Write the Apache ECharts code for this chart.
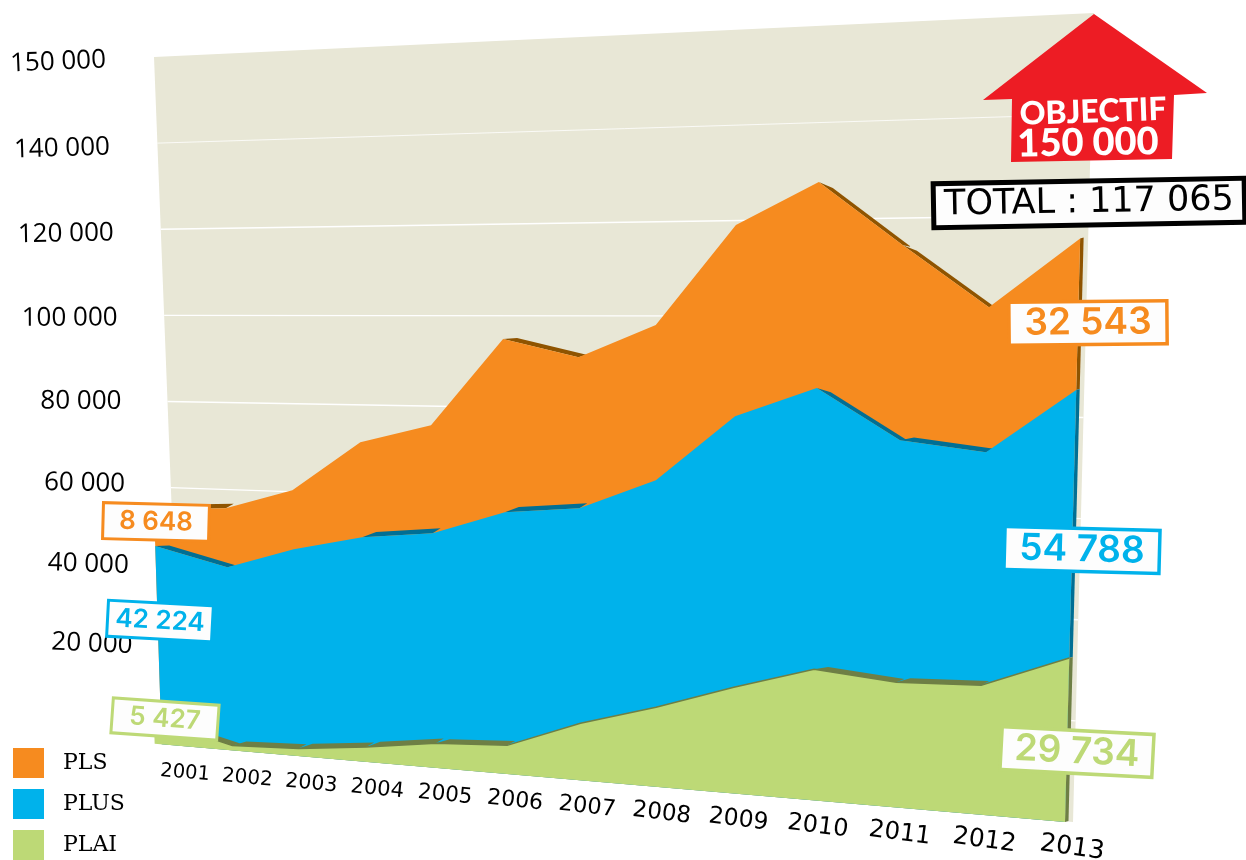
<!DOCTYPE html>
<html>
<head>
<meta charset="utf-8">
<title>PLS PLUS PLAI 2001-2013</title>
<script src="https://cdn.jsdelivr.net/npm/echarts@6/dist/echarts.min.js"></script>
<style>
  html, body { margin: 0; background: #fff; }
  #main { width: 1246px; height: 860px; }
</style>
</head>
<body>
<div id="main"></div>
<script>
// values read off the drawn shapes (the poster's drawing is not quite to scale with its own labels)
const years = [2001, 2002, 2003, 2004, 2005, 2006, 2007, 2008, 2009, 2010, 2011, 2012, 2013];
const plai = [5430, 1170, 1800, 3460, 5670, 6540, 12820, 17620, 23200, 28210, 26560, 27090, 33780];
const plus = [42220, 42270, 46610, 48420, 47830, 52310, 47520, 49340, 57770, 58890, 50210, 47680, 53710];
const pls = [8650, 13810, 13610, 21520, 24100, 37850, 32600, 32910, 39570, 41880, 39330, 28950, 29580];

// the top tick really sits at the 160 000 position but is printed 150 000
const tickValues = [20000, 40000, 60000, 80000, 100000, 120000, 140000, 160000];
const tickLabels = ['20 000', '40 000', '60 000', '80 000', '100 000', '120 000', '140 000', '150 000'];

const W = 1246, H = 860;
const deg = d => -d * Math.PI / 180; // clockwise degrees to zrender rotation
const FONT = 'Inter, Lato, sans-serif';

// four corner perspective: unit square -> quad
function makeWarp(p00, p10, p11, p01) {
  const dx1 = p10[0] - p11[0], dy1 = p10[1] - p11[1];
  const dx2 = p01[0] - p11[0], dy2 = p01[1] - p11[1];
  const sx = p00[0] - p10[0] + p11[0] - p01[0], sy = p00[1] - p10[1] + p11[1] - p01[1];
  const D = dx1 * dy2 - dx2 * dy1;
  const g = (sx * dy2 - dx2 * sy) / D, h = (dx1 * sy - sx * dy1) / D;
  const a = p10[0] - p00[0] + g * p10[0], b = p01[0] - p00[0] + h * p01[0];
  const d = p10[1] - p00[1] + g * p10[1], e = p01[1] - p00[1] + h * p01[1];
  return (u, v) => {
    const w = 1 + g * u + h * v;
    return [(a * u + b * v + p00[0]) / w, (d * u + e * v + p00[1]) / w];
  };
}

const plane = makeWarp([168, 744.8], [1065, 822], [1086, 13.4], [146, 57.4]);
const yearLine = makeWarp([185, 773], [1072, 848], [1092, 39], [185, 103]);
const tickLine = makeWarp([136, 725], [1136, 725], [1162, 60], [106, 60]);

// the wall behind the areas, its rules stay evenly spaced
const wallLeft = [[181, 746], [154, 57]];
const wallRight = [[1073, 822], [1094, 13]];
const mix = (a, b, t) => [a[0] + (b[0] - a[0]) * t, a[1] + (b[1] - a[1]) * t];

// api.coord gives flat grid pixels, the plane bends them
const project = (api, x, y) => {
  const p = api.coord([x, y]);
  return plane(p[0] / W, 1 - p[1] / H);
};

const stack = (...layers) => years.map((_, i) => layers.reduce((s, l) => s + l[i], 0));
const topPlai = stack(plai);
const topPlus = stack(plai, plus);
const topPls = stack(plai, plus, pls);

// first year is drawn a bit further out than the regular spacing
const xAt = i => (i === 0 ? 2000.9 : years[i]);

function layerRender(tops, lowerTops, color, dark, outlined) {
  return (params, api) => {
    const pts = years.map((y, i) => project(api, xAt(i), tops[i]));
    const children = [];
    const thick = 4.5;
    // dark side only shows where the edge falls or stays flat
    for (let i = 0; i < pts.length - 1; i++) {
      const A = pts[i], B = pts[i + 1];
      const s = (B[1] - A[1]) / (B[0] - A[0]);
      if (s < -0.1) continue;
      children.push({
        type: 'polygon',
        shape: { points: [A, [A[0] + 14, A[1] + 14 * s - thick], [B[0] + 8, B[1] + 8 * s - thick], B] },
        style: { fill: dark }
      });
    }
    // right hand side
    const last = pts[pts.length - 1];
    const lower = project(api, 2013, lowerTops ? lowerTops[lowerTops.length - 1] : 0);
    children.push({
      type: 'polygon',
      shape: { points: [last, [last[0] + 3.5, last[1] - 1], [lower[0] + 3.5, lower[1] - 1], lower] },
      style: { fill: dark }
    });
    const outline = pts.slice();
    outline.push(project(api, 2013, 0));
    if (outlined) outline.push(project(api, 2000.79, 0), project(api, 2000.79, 2300));
    else outline.push(project(api, 2000.9, 0));
    children.push({ type: 'polygon', shape: { points: outline }, style: { fill: color } });
    if (outlined) {
      children.push({ type: 'polyline', shape: { points: pts }, style: { fill: null, stroke: dark, lineWidth: 1.5 } });
    }
    return { type: 'group', children: children };
  };
}

function wallRender(params, api) {
  const edge = t => {
    const v = 1 - api.coord([2001, t])[1] / H;
    return [mix(wallLeft[0], wallLeft[1], v), mix(wallRight[0], wallRight[1], v)];
  };
  const children = [{
    type: 'polygon',
    shape: { points: [edge(160000)[0], edge(160000)[1], edge(0)[1], edge(0)[0]] },
    style: { fill: '#e8e7d6' }
  }];
  tickValues.slice(0, -1).forEach(t => {
    const [a, b] = edge(t);
    children.push({
      type: 'line',
      shape: { x1: a[0], y1: a[1], x2: b[0], y2: b[1] },
      style: { stroke: '#fff', lineWidth: t === 140000 ? 0.8 : 1.4 }
    });
  });
  return { type: 'group', children: children };
}

// year labels grow towards the viewer like the wall does
function yearRender(params, api) {
  const i = params.dataIndex;
  const p = api.coord([years[i], 0]);
  const q = yearLine(p[0] / W, 0);
  return {
    type: 'text', x: q[0], y: q[1], rotation: deg(5 + i * 0.25),
    style: { text: String(years[i]), font: (19.5 + i * 0.5) + 'px "DejaVu Sans", sans-serif', fill: '#000', align: 'center', verticalAlign: 'middle' }
  };
}

function tickRender(params, api) {
  const i = params.dataIndex;
  const p = api.coord([2001, tickValues[i]]);
  const q = tickLine(0, 1 - p[1] / H);
  return {
    type: 'text', x: q[0], y: q[1], rotation: deg(2.5 - i * 0.7),
    style: { text: tickLabels[i], font: '26px "Open Sans", sans-serif', fill: '#000', align: 'right', verticalAlign: 'middle' }
  };
}

// white tag with coloured border
function tag(x, y, w, h, rot, color, text, font, border) {
  return {
    type: 'group', x: x, y: y, rotation: deg(rot), z: 20,
    children: [
      { type: 'rect', shape: { x: -w / 2, y: -h / 2, width: w, height: h }, style: { fill: '#fdfdfd', stroke: color, lineWidth: border }, z: 20 },
      { type: 'text', style: { x: 0, y: 0, text: text, font: font, fill: color, align: 'center', verticalAlign: 'middle' }, z: 21 }
    ]
  };
}

const bold = s => '600 ' + s + 'px ' + FONT;
const ORANGE = '#f68b1f', BLUE = '#00b2eb', GREEN = '#bdd976';

const chart = echarts.init(document.getElementById('main'));
chart.setOption({
  animation: false,
  backgroundColor: '#fff',
  grid: { left: 0, right: 0, top: 0, bottom: 0 },
  xAxis: { type: 'value', min: 2001, max: 2013, show: false },
  yAxis: { type: 'value', min: 0, max: 160000, interval: 20000, show: false },
  legend: {
    left: 13, top: 748, height: 112, orient: 'vertical', itemWidth: 31, itemHeight: 30, itemGap: 11,
    padding: 0, icon: 'rect', selectedMode: false,
    data: ['PLS', 'PLUS', 'PLAI'],
    textStyle: { fontFamily: '"DejaVu Serif", serif', fontSize: 22, color: '#000', padding: [6, 0, 0, 14] }
  },
  series: [
    { type: 'custom', silent: true, renderItem: wallRender, data: [[0]] },
    { type: 'custom', name: 'PLS', silent: true, itemStyle: { color: ORANGE }, renderItem: layerRender(topPls, topPlus, ORANGE, '#8f5400', false), data: [[0]] },
    { type: 'custom', name: 'PLUS', silent: true, itemStyle: { color: BLUE }, renderItem: layerRender(topPlus, topPlai, BLUE, '#006f94', false), data: [[0]] },
    { type: 'custom', name: 'PLAI', silent: true, itemStyle: { color: GREEN }, renderItem: layerRender(topPlai, null, GREEN, '#6e7f45', true), data: [[0]] },
    { type: 'custom', silent: true, renderItem: yearRender, data: years.map(y => [y]) },
    { type: 'custom', silent: true, renderItem: tickRender, data: tickValues.map(t => [t]) }
  ],
  graphic: [
    {
      type: 'polygon', z: 15,
      shape: { points: [[1094, 14], [1207, 93], [1174, 95], [1172, 159], [1011, 162], [1012, 99], [983, 100]] },
      style: { fill: '#ed1c24' }
    },
    { type: 'text', z: 16, x: 1093, y: 112, rotation: deg(-2), style: { text: 'OBJECTIF', font: '900 32px Lato, sans-serif', fill: '#fff', align: 'center', verticalAlign: 'middle' } },
    { type: 'text', z: 16, x: 1088, y: 143, rotation: deg(-1), style: { text: '150 000', font: '900 38px Lato, sans-serif', fill: '#fff', align: 'center', verticalAlign: 'middle' } },
    tag(1089, 203, 311, 44, -1, '#000', 'TOTAL : 117 065', '35px "DejaVu Sans", sans-serif', 5),
    tag(156, 522, 106, 36, 1.5, ORANGE, '8 648', bold(26), 3),
    tag(160, 621, 105, 36, 3, BLUE, '42 224', bold(26), 3),
    tag(165, 719, 106, 35, 4, GREEN, '5 427', bold(26), 3),
    tag(1088, 323, 158, 43, -0.5, ORANGE, '32 543', bold(37), 3.5),
    tag(1082, 550, 155, 43, 1.5, BLUE, '54 788', bold(37), 3.5),
    tag(1077, 752, 152, 43, 3, GREEN, '29 734', bold(37), 3.5)
  ]
});
window.addEventListener('resize', () => chart.resize());
</script>
</body>
</html>
